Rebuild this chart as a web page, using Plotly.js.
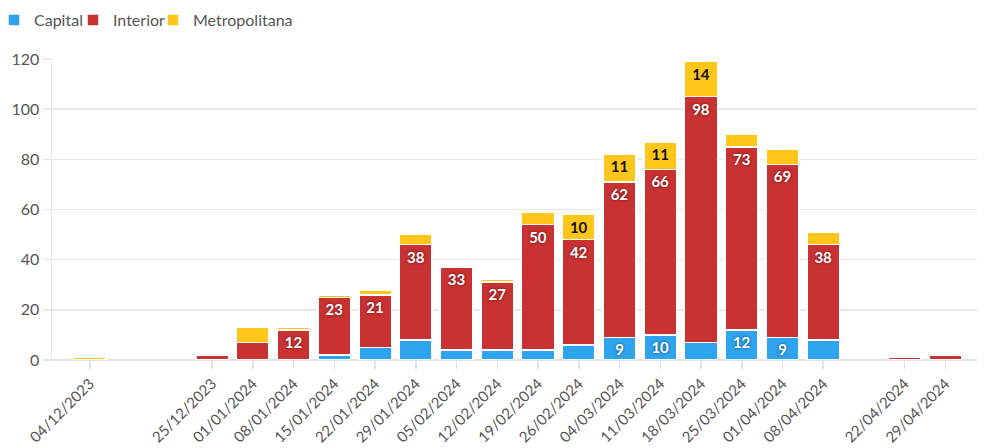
<!DOCTYPE html>
<html>
<head>
<meta charset="utf-8">
<script src="https://cdn.plot.ly/plotly-3.0.1.min.js"></script>
<style>html,body{margin:0;padding:0;background:#fff;}#chart{width:991px;height:448px;}</style>
</head>
<body>
<div id="chart"></div>
<script>
const weeks = ["2023-12-04","2023-12-25","2024-01-01","2024-01-08","2024-01-15","2024-01-22","2024-01-29","2024-02-05","2024-02-12","2024-02-19","2024-02-26","2024-03-04","2024-03-11","2024-03-18","2024-03-25","2024-04-01","2024-04-08","2024-04-22","2024-04-29"];
const tickLabels = ["04/12/2023","25/12/2023","01/01/2024","08/01/2024","15/01/2024","22/01/2024","29/01/2024","05/02/2024","12/02/2024","19/02/2024","26/02/2024","04/03/2024","11/03/2024","18/03/2024","25/03/2024","01/04/2024","08/04/2024","22/04/2024","29/04/2024"];
const capital =       [0,0,0,0,2,5,8,4,4,4,6,9,10,7,12,9,8,0,0];
const interior =      [0,2,7,12,23,21,38,33,27,50,42,62,66,98,73,69,38,1,2];
const metropolitana = [1,0,6,1,1,2,4,0,1,5,10,11,11,14,5,6,5,0,0];

const FONT = "Lato, 'Source Sans Pro', 'Noto Sans', sans-serif";
const labelOf = v => (v >= 9 ? String(v) : "");

function series(name, vals, color, txtColor, shadow, legendId) {
  return {
    type: "bar", name: name, x: weeks, y: vals,
    legend: legendId,
    text: vals.map(labelOf),
    textposition: "inside", insidetextanchor: "end",
    textangle: 0,
    textfont: {family: FONT, size: 15, color: txtColor, weight: "bold", shadow: shadow},
    constraintext: "none",
    marker: {color: color, line: {color: "#ffffff", width: 1.5}},
    hoverinfo: "x+y+name"
  };
}

const data = [
  series("Capital", capital, "#2EA3EE", "#ffffff", "0px 0px 3px rgba(0,0,0,0.55)", "legend"),
  series("Interior", interior, "#C83232", "#ffffff", "0px 0px 3px rgba(60,0,0,0.7)", "legend2"),
  series("Metropolitana", metropolitana, "#FFC61A", "#111111", "none", "legend3")
];

function legendAt(x) {
  return {orientation: "h", x: x, xanchor: "left", y: 1.186, yanchor: "top",
          bgcolor: "rgba(0,0,0,0)",
          font: {family: FONT, size: 16, color: "#555"}, itemwidth: 30};
}

const layout = {
  width: 991, height: 448,
  barmode: "stack", bargap: 0.2,
  margin: {l: 52, r: 14, t: 59, b: 88, autoexpand: false},
  paper_bgcolor: "#fff", plot_bgcolor: "#fff",
  font: {family: FONT, color: "#555"},
  showlegend: true,
  legend: legendAt(-0.0627),
  legend2: legendAt(0.0227),
  legend3: legendAt(0.1092),
  xaxis: {
    type: "date",
    range: ["2023-11-27 12:00", "2024-05-04 10:00"],
    tickmode: "array", tickvals: weeks, ticktext: tickLabels,
    tickangle: -45, tickfont: {family: FONT, size: 15, color: "#555"},
    ticks: "outside", ticklen: 8, tickcolor: "#e3e3e3", tickwidth: 1.5,
    showgrid: false, showline: false, zeroline: false
  },
  yaxis: {
    range: [0, 120], dtick: 20,
    tickfont: {family: FONT, size: 16, color: "#555"},
    gridcolor: "#e8e8e8", gridwidth: 1.5,
    showline: true, linecolor: "#e8e8e8", linewidth: 1.5,
    zeroline: true, zerolinecolor: "#e3e3e3", zerolinewidth: 2,
    ticks: "outside", ticklen: 8, tickcolor: "#e8e8e8", tickwidth: 1.5,
    ticklabelstandoff: 0
  }
};

Plotly.newPlot("chart", data, layout, {displayModeBar: false, staticPlot: true});
</script>
</body>
</html>
